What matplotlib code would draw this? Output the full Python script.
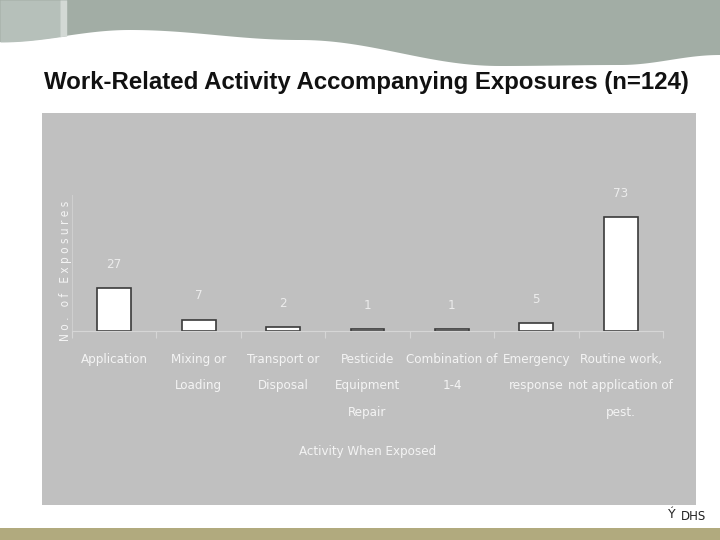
import numpy as np
import matplotlib
matplotlib.use("Agg")
import matplotlib.pyplot as plt
from matplotlib.patches import Rectangle

# ---- chart data ----
categories = ["Application", "Mixing or\nLoading", "Transport or\nDisposal",
              "Pesticide\nEquipment\nRepair", "Combination of\n1-4",
              "Emergency\nresponse", "Routine work,\nnot application of\npest."]
exposures = [27, 7, 2, 1, 1, 5, 73]

title = "Work-Related Activity Accompanying Exposures (n=124)"
x_label = "Activity When Exposed"
y_label = "N o .   o f   E x p o s u r e s"

W, H = 720, 540
narrow = dict(family="DejaVu Sans", fontstretch="condensed")

fig = plt.figure(figsize=(W / 100, H / 100), dpi=100)
fig.patch.set_facecolor("white")

# ---- slide background (pixel coordinates) ----
bg = fig.add_axes([0, 0, 1, 1])
bg.set_xlim(0, W)
bg.set_ylim(H, 0)
bg.axis("off")

# wavy banner edge
wx = [0, 130, 300, 500, 620, 720]
wy = [42, 30, 40, 66, 65, 55]
xs, ys = [], []
for i in range(len(wx) - 1):
    t = np.linspace(0, 1, 40)
    s = (1 - np.cos(np.pi * t)) / 2
    xs.extend(wx[i] + (wx[i + 1] - wx[i]) * t)
    ys.extend(wy[i] + (wy[i + 1] - wy[i]) * s)
xs, ys = np.array(xs), np.array(ys)
bg.fill_between(xs, 0, ys, color="#a2ada5", lw=0)
left = xs <= 67
bg.fill_between(xs[left], 0, ys[left], color="#b6c0ba", lw=0)
stripe = (xs >= 58) & (xs <= 67)
bg.fill_between(xs[stripe], 0, ys[stripe], color="#d3d9d5", lw=0)

# gray chart panel and bottom strip
bg.add_patch(Rectangle((42, 113), 654, 392, color="#c0c0c0", lw=0))
bg.add_patch(Rectangle((0, 528), W, 12, color="#b1aa7e", lw=0))

bg.text(366, 82, title, ha="center", va="center", fontsize=17.3,
        fontweight="bold", family="Liberation Sans", color="#111111")
bg.text(706, 516, "DHS", ha="right", va="center", fontsize=8.5,
        family="DejaVu Sans", color="#222222")
bg.text(676, 514, "Ý", ha="right", va="center", fontsize=9,
        family="DejaVu Sans", color="#222222")

# ---- bar chart ----
ax = fig.add_axes([72 / W, (H - 330.5) / H, (663 - 72) / W, 135.5 / H])
ax.patch.set_alpha(0)
pos = np.arange(len(categories))
bars = ax.bar(pos, exposures, width=0.4, color="white",
              edgecolor="#3a3a3a", linewidth=1.2)
ax.set_xlim(-0.5, len(categories) - 0.5)
ax.set_ylim(0, 87)

for b, v in zip(bars, exposures):
    ax.annotate(str(v), (b.get_x() + b.get_width() / 2, v),
                xytext=(0, 17), textcoords="offset points",
                ha="center", va="center", fontsize=9.5, color="#ececec",
                **narrow)

ax.set_xticks(pos)
ax.set_xticklabels(categories, fontsize=9.5, color="#f4f4f4",
                   linespacing=2.35, **narrow)
ax.set_xticks(np.arange(-0.5, len(categories)), minor=True)
ax.tick_params(axis="x", which="major", length=0, pad=16)
ax.tick_params(axis="x", which="minor", length=5, color="#d6d6d6", width=0.8)
ax.set_yticks([])

for s in ["top", "right"]:
    ax.spines[s].set_visible(False)
ax.spines["bottom"].set_color("#d6d6d6")
ax.spines["left"].set_color("#d0d0d0")
ax.spines["left"].set_linewidth(0.7)

bg.text(368, 451, x_label, ha="center", va="center", fontsize=9.5,
        color="#f4f4f4", **narrow)
bg.text(66, 271, y_label, ha="center", va="center", rotation=90,
        fontsize=8.5, color="#f4f4f4", **narrow)

fig.savefig("out.png", dpi=100)
